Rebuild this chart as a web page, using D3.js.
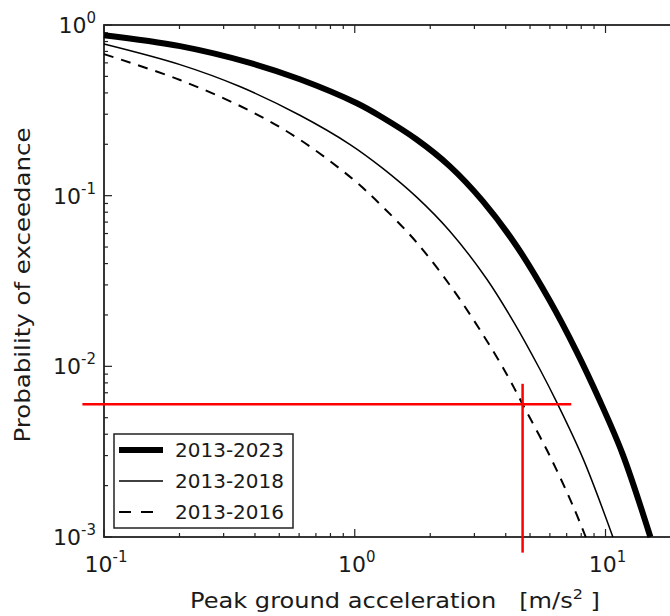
<!DOCTYPE html>
<html>
<head>
<meta charset="utf-8">
<script src="https://cdn.jsdelivr.net/npm/d3@7"></script>
<style>
  body { margin: 0; background: #fff; }
  text { font-family: "DejaVu Sans", sans-serif; fill: #1a1a1a; }
</style>
</head>
<body>
<div id="chart"></div>
<script>
// data
var periods = ["2013-2023", "2013-2018", "2013-2016"];

var pga2023  = [0.1, 0.201, 0.382, 0.604, 1.02, 1.29, 1.76, 2.39, 3.24, 4.41, 5.98, 7.66, 9.46, 11.7, 15.1];
var prob2023 = [0.871, 0.752, 0.600, 0.481, 0.348, 0.287, 0.214, 0.149, 0.0929, 0.0509, 0.0244, 0.01225, 0.00635, 0.00306, 0.001];

var pga2018  = [0.1, 0.201, 0.348, 0.604, 0.955, 1.29, 1.77, 2.39, 3.36, 4.34, 5.46, 6.38, 8.16, 10.7];
var prob2018 = [0.774, 0.586, 0.436, 0.296, 0.200, 0.145, 0.0977, 0.0621, 0.0325, 0.0178, 0.00968, 0.00619, 0.00285, 0.001];

var pga2016  = [0.1, 0.201, 0.382, 0.604, 0.982, 1.29, 1.77, 2.46, 3.24, 4.04, 4.67, 5.98, 7.39, 8.34];
var prob2016 = [0.675, 0.476, 0.314, 0.213, 0.125, 0.0863, 0.0530, 0.0283, 0.0154, 0.00897, 0.00600, 0.00301, 0.00154, 0.001];

// red reference lines
var hLineProb = 0.006, hLinePga = [0.082, 7.3];
var vLinePga = 4.67, vLineProb = [0.0079, 0.00081];

var xTickExp = [-1, 0, 1];
var yTickExp = [0, -1, -2, -3];

// set the dimensions
var width = 670, height = 616;
var margin = {top: 25, left: 104, bottom: 537, right: 681};

var svg = d3.select("#chart")
  .append("svg")
    .attr("width", width)
    .attr("height", height);

var x = d3.scaleLog().domain([0.1, 20]).range([margin.left, margin.right]);
var y = d3.scaleLog().domain([0.001, 1]).range([margin.bottom, margin.top]);

// ticks (inside, classic matplotlib style)
function minorTicks(lo, hi) {
  var out = [];
  for (var e = lo; e < hi; e++) {
    for (var m = 2; m <= 9; m++) out.push(m * Math.pow(10, e));
  }
  return out;
}
var xMinor = minorTicks(-1, 2).filter(function(v) { return v < 20; });
var yMinor = minorTicks(-3, 0);
var xMajor = xTickExp.map(function(e) { return Math.pow(10, e); });
var yMajor = yTickExp.map(function(e) { return Math.pow(10, e); });

var tickG = svg.append("g").attr("stroke", "#222").attr("stroke-width", 1.2);
[[margin.bottom, -1], [margin.top, 1]].forEach(function(p) {
  tickG.selectAll(null).data(xMinor).enter().append("line")
    .attr("x1", function(d) { return x(d); }).attr("x2", function(d) { return x(d); })
    .attr("y1", p[0]).attr("y2", p[0] + 4 * p[1]);
  tickG.selectAll(null).data(xMajor).enter().append("line")
    .attr("x1", function(d) { return x(d); }).attr("x2", function(d) { return x(d); })
    .attr("y1", p[0]).attr("y2", p[0] + 8 * p[1]);
});
tickG.selectAll(null).data(yMinor).enter().append("line")
  .attr("x1", margin.left).attr("x2", margin.left + 4)
  .attr("y1", function(d) { return y(d); }).attr("y2", function(d) { return y(d); });
tickG.selectAll(null).data(yMajor).enter().append("line")
  .attr("x1", margin.left).attr("x2", margin.left + 8)
  .attr("y1", function(d) { return y(d); }).attr("y2", function(d) { return y(d); });

// frame
svg.append("rect")
  .attr("x", margin.left).attr("y", margin.top)
  .attr("width", margin.right - margin.left).attr("height", margin.bottom - margin.top)
  .attr("fill", "none").attr("stroke", "#222").attr("stroke-width", 1.8);

// tick labels
function powLabel(sel, e) {
  sel.append("tspan").text("10");
  sel.append("tspan").attr("dy", -10).attr("font-size", 15).text(e < 0 ? "-" + (-e) : e);
}
xTickExp.forEach(function(e) {
  svg.append("text")
    .attr("x", x(Math.pow(10, e)) + 2).attr("y", 572)
    .attr("text-anchor", "middle").attr("font-size", 22)
    .call(powLabel, e);
});
yTickExp.forEach(function(e) {
  svg.append("text")
    .attr("x", 96).attr("y", y(Math.pow(10, e)) + 8)
    .attr("text-anchor", "end").attr("font-size", 22)
    .call(powLabel, e);
});

// axis titles
svg.append("text")
  .attr("transform", "translate(30,285) rotate(-90)")
  .attr("text-anchor", "middle").attr("font-size", 21)
  .attr("textLength", 315).attr("lengthAdjust", "spacingAndGlyphs")
  .text("Probability of exceedance");

var xt = svg.append("text")
  .attr("x", 395).attr("y", 608)
  .attr("text-anchor", "middle").attr("font-size", 21)
  .attr("textLength", 410).attr("lengthAdjust", "spacingAndGlyphs")
  .style("white-space", "pre");
xt.append("tspan").text("Peak ground acceleration   [m/s");
xt.append("tspan").attr("dy", -9).attr("font-size", 14).text("2");
xt.append("tspan").attr("dy", 9).text(" ]");

// curves
var styles = [
  {w: 6, dash: null},
  {w: 1.5, dash: null},
  {w: 2, dash: "10,8"}
];
var series = [
  d3.zip(pga2023, prob2023),
  d3.zip(pga2018, prob2018),
  d3.zip(pga2016, prob2016)
];
var line = d3.line()
  .x(function(d) { return x(d[0]); })
  .y(function(d) { return y(d[1]); })
  .curve(d3.curveCatmullRom.alpha(0.5));

series.forEach(function(s, i) {
  svg.append("path")
    .datum(s)
    .attr("d", line)
    .attr("fill", "none")
    .attr("stroke", "#000")
    .attr("stroke-width", styles[i].w)
    .attr("stroke-dasharray", styles[i].dash);
});

// red lines
svg.append("line")
  .attr("x1", x(hLinePga[0])).attr("x2", x(hLinePga[1]))
  .attr("y1", y(hLineProb)).attr("y2", y(hLineProb))
  .attr("stroke", "#ff0000").attr("stroke-width", 2.5);
svg.append("line")
  .attr("x1", x(vLinePga)).attr("x2", x(vLinePga))
  .attr("y1", y(vLineProb[0])).attr("y2", y(vLineProb[1]))
  .attr("stroke", "#ff0000").attr("stroke-width", 2.5);

// legend
var lg = svg.append("g");
lg.append("rect")
  .attr("x", 114).attr("y", 434).attr("width", 179).attr("height", 94)
  .attr("fill", "#fff").attr("stroke", "#222").attr("stroke-width", 1.5);
periods.forEach(function(p, i) {
  var ly = 450 + i * 31;
  lg.append("line")
    .attr("x1", 119).attr("x2", 163).attr("y1", ly).attr("y2", ly)
    .attr("stroke", "#000")
    .attr("stroke-width", styles[i].w)
    .attr("stroke-dasharray", i == 2 ? "12,10" : null);
  lg.append("text")
    .attr("x", 175).attr("y", ly + 7)
    .attr("font-size", 20)
    .text(p);
});
</script>
</body>
</html>
